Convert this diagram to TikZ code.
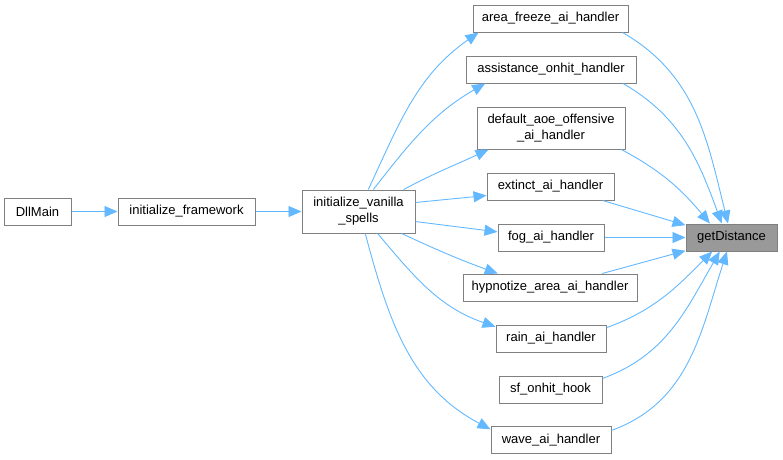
\documentclass[tikz,border=0pt]{standalone}
\usepackage{fontspec}
\setmainfont{Liberation Sans}
\usetikzlibrary{arrows.meta}
\definecolor{edgeblue}{HTML}{63B8FF}
\definecolor{boxline}{HTML}{808080}
\definecolor{hlfill}{HTML}{999999}
\tikzset{
  fn/.style={draw=boxline, line width=1pt, fill=white, inner sep=0pt, minimum height=27pt,
    font=\fontsize{13}{16}\selectfont, align=center},
  hl/.style={fn, fill=hlfill},
  edge/.style={draw=edgeblue, line width=0.9pt, -{Triangle[length=13pt,width=11pt]}},
}
\begin{document}
\begin{tikzpicture}[x=1pt,y=1pt]
\useasboundingbox (0,0) rectangle (783,-459);
% nodes
\node[fn, minimum width=67pt]  (dll)  at (37.5,-211.5) {DllMain};
\node[fn, minimum width=137pt] (frm)  at (186.5,-211.5) {initialize\_framework};
\node[fn, minimum width=113pt, minimum height=43pt] (ivs) at (358.5,-211.5) {initialize\_vanilla\\\_spells};
\node[fn, minimum width=155pt] (afz)  at (550.5,-18.5) {area\_freeze\_ai\_handler};
\node[fn, minimum width=170pt] (asst) at (551,-69.5) {assistance\_onhit\_handler};
\node[fn, minimum width=148pt, minimum height=42pt] (daoe) at (551,-128) {default\_aoe\_offensive\\\_ai\_handler};
\node[fn, minimum width=127pt] (ext)  at (550.5,-186.5) {extinct\_ai\_handler};
\node[fn, minimum width=106pt] (fog)  at (551,-237.5) {fog\_ai\_handler};
\node[fn, minimum width=174pt] (hyp)  at (550,-287.5) {hypnotize\_area\_ai\_handler};
\node[fn, minimum width=110pt] (rain) at (551,-338.5) {rain\_ai\_handler};
\node[fn, minimum width=103pt] (sf)   at (550.5,-389.5) {sf\_onhit\_hook};
\node[fn, minimum width=120pt] (wave) at (551,-440) {wave\_ai\_handler};
\node[hl, minimum width=91pt]  (gd)   at (731.5,-237.5) {getDistance};
% left chain
\draw[edge] (dll) -- (frm);
\draw[edge] (frm) -- (ivs);
% ivs -> handlers
\draw[edge] (ivs.66) to[out=65,in=-145] (afz.-169);
\draw[edge] (ivs.56) to[out=52,in=-150] (asst.-168);
\draw[edge] (ivs.26) to[out=28,in=-155] (daoe.-161);
\draw[edge] (ivs.9.5) -- (ext.-172);
\draw[edge] (ivs.-10.5) -- (fog.174);
\draw[edge] (ivs.-27.4) to[out=-25,in=160] (hyp.165.7);
\draw[edge] (ivs.-49.3) to[out=-50,in=161] (rain.168.2);
\draw[edge] (ivs.-73) to[out=-75,in=152] (wave.170.5);
% handlers -> getDistance
\draw[edge] (afz.-11) to[out=-30,in=104] (gd.104.5);
\draw[edge] (asst.-11.4) to[out=-30,in=110] (gd.125);
\draw[edge] (daoe.-17.9) to[out=-28,in=130] (gd.147.9);
\draw[edge] (ext.-15.3) -- (gd.165.8);
\draw[edge] (fog) -- (gd);
\draw[edge] (hyp.15.1) -- (gd.-164.6);
\draw[edge] (rain.11.8) to[out=20,in=-135] (gd.-144);
\draw[edge] (sf.12.6) to[out=20,in=-120] (gd.-130.4);
\draw[edge] (wave.9.5) to[out=20,in=-108] (gd.-108.4);
\end{tikzpicture}
\end{document}
